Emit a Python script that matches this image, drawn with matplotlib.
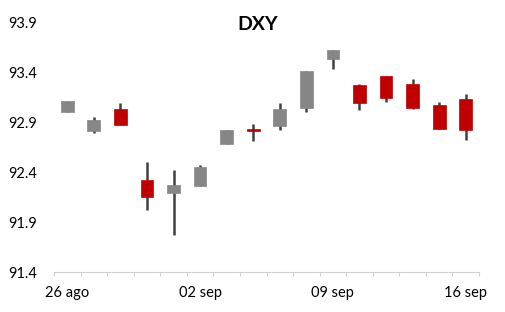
import matplotlib
matplotlib.use("Agg")
import matplotlib.pyplot as plt
import numpy as np

dates = ["26 ago", "27 ago", "28 ago", "29 ago", "30 ago",
         "02 sep", "03 sep", "04 sep", "05 sep", "06 sep",
         "09 sep", "10 sep", "11 sep", "12 sep", "13 sep", "16 sep"]
opens  = [93.01, 92.82, 93.04, 92.32, 92.19, 92.26, 92.69, 92.83, 92.87, 93.05, 93.54, 93.28, 93.37, 93.29, 93.08, 93.14]
highs  = [93.12, 92.96, 93.10, 92.50, 92.42, 92.47, 92.83, 92.89, 93.10, 93.42, 93.63, 93.29, 93.37, 93.34, 93.11, 93.19]
lows   = [93.01, 92.80, 92.88, 92.02, 91.77, 92.26, 92.69, 92.72, 92.83, 93.01, 93.44, 93.03, 93.11, 93.04, 92.84, 92.73]
closes = [93.12, 92.93, 92.88, 92.15, 92.27, 92.45, 92.83, 92.82, 93.04, 93.42, 93.63, 93.10, 93.15, 93.05, 92.84, 92.83]
label_idx = [0, 5, 10, 15]
yticks = [91.4, 91.9, 92.4, 92.9, 93.4, 93.9]

plt.rcParams['font.family'] = ['Lato', 'DejaVu Sans']

fig = plt.figure(figsize=(5.05, 3.12), dpi=100)
ax = fig.add_axes([54/505, 40/312, (479-54)/505, (272-23)/312])

up_col = '#868686'
down_col = '#c00000'
wick_col = '#404040'
x = np.arange(len(dates))
for i in x:
    o, h, l, c = opens[i], highs[i], lows[i], closes[i]
    ax.vlines(i, l, h, color=wick_col, linewidth=1.8, zorder=1)
    col = up_col if c >= o else down_col
    bottom = min(o, c)
    height = max(abs(c - o), 0.02)
    if abs(c - o) < 0.02:
        bottom = (o + c) / 2 - 0.01
    ax.bar(i, height, bottom=bottom, width=0.48, color=col, edgecolor=col,
           linewidth=0.5, zorder=2)

ax.set_xlim(-0.5, len(dates) - 0.5)
ax.set_ylim(yticks[0], yticks[-1])
ax.set_yticks(yticks)
ax.set_yticklabels([f"{v:.1f}" for v in yticks])
ax.tick_params(axis='y', length=0, pad=12, labelsize=10.5, labelcolor='#000000')

ax.set_xticks(np.arange(-0.5, len(dates)), minor=False)
ax.set_xticklabels([])
ax.tick_params(axis='x', which='major', length=3, color='#d0d0d0', width=0.8)
ax.set_xticks(label_idx, minor=True)
ax.set_xticklabels([dates[i] for i in label_idx], minor=True)
ax.tick_params(axis='x', which='minor', length=0, pad=10, labelsize=10.5)

for s in ['top', 'right', 'left']:
    ax.spines[s].set_visible(False)
ax.spines['bottom'].set_color('#d0d0d0')
ax.spines['bottom'].set_linewidth(0.8)

fig.text(258/505, 1 - 25/312, "DXY", ha='center', va='center',
         fontsize=14, fontweight='bold')

fig.savefig("out.png", dpi=100)
